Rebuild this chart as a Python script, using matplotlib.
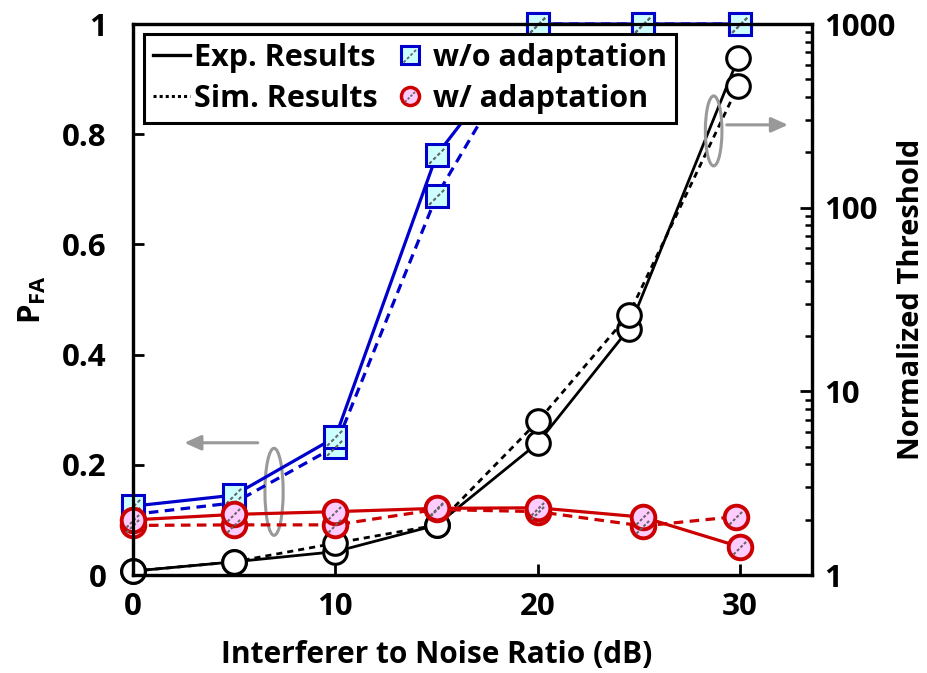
import numpy as np
import matplotlib
matplotlib.use("Agg")
import matplotlib.pyplot as plt
from matplotlib.path import Path
from matplotlib.lines import Line2D
from matplotlib.legend_handler import HandlerTuple
from matplotlib.patches import Ellipse

plt.rcParams['font.family'] = ['Open Sans', 'DejaVu Sans']
plt.rcParams['font.weight'] = 'bold'

# INR values (dB)
inr_pfa = [0, 5, 10, 15, 20, 25.2, 30]
inr_red_sim = [0, 5, 10, 15, 20, 25.2, 29.8]
inr_thr = [0, 5, 10, 15, 20, 24.5, 29.9]

# P_FA without adaptation
pfa_noadapt_exp = [0.125, 0.145, 0.25, 0.762, 1.0, 1.0, 1.0]
pfa_noadapt_sim = [0.11, 0.131, 0.233, 0.688, 1.0, 1.0, 1.0]
# P_FA with adaptation
pfa_adapt_exp = [0.1, 0.11, 0.115, 0.121, 0.122, 0.105, 0.051]
pfa_adapt_sim = [0.09, 0.091, 0.091, 0.119, 0.115, 0.089, 0.106]
# normalized threshold (right axis)
thr_exp = [1.05, 1.18, 1.34, 1.87, 5.23, 21.9, 650]
thr_sim = [1.05, 1.18, 1.49, 1.87, 6.86, 26.2, 460]

BLUE = '#0000cc'
RED = '#cc0000'
GRAY = '#999999'
FS = 22.5


def dashed_diag(n=4):
    # little dashed diagonal used as the "hatch" inside markers
    verts, codes = [], []
    step = 2.0 / n
    for i in range(n):
        s = -1 + i * step
        e = s + step * 0.6
        verts += [(s, s), (e, e)]
        codes += [Path.MOVETO, Path.LINETO]
    return Path(verts, codes)


DIAG = dashed_diag()

fig = plt.figure(figsize=(9.28, 6.73), dpi=100)
ax = fig.add_axes([0.1433, 0.1456, 0.7317, 0.8187])
ax2 = ax.twinx()

# threshold curves first (drawn under the P_FA ones)
ax.set_zorder(2)
ax2.set_zorder(1)
ax.patch.set_visible(False)

ax2.plot(inr_thr, thr_exp, '-', color='black', lw=2.0, marker='o', ms=17,
         mfc='white', mec='black', mew=2.2, clip_on=False)
ax2.plot(inr_thr, thr_sim, color='black', lw=2.0, ls=(0, (2.2, 1.8)), marker='o', ms=17,
         mfc='white', mec='black', mew=2.2, clip_on=False)

sq = dict(marker='s', ms=16.5, mfc='#ccffff', mec=BLUE, mew=2.2, clip_on=False)
ci = dict(marker='o', ms=17, mfc='#ffccff', mec=RED, mew=2.8, clip_on=False)

ax.plot(inr_pfa, pfa_noadapt_sim, color=BLUE, lw=2.3, ls=(0, (3, 2)), **sq)
ax.plot(inr_pfa, pfa_noadapt_exp, '-', color=BLUE, lw=2.3, **sq)
ax.plot(inr_pfa, pfa_noadapt_sim, ls='none', marker=DIAG, ms=12, mec='#666666', mew=1.5, clip_on=False)
ax.plot(inr_pfa, pfa_noadapt_exp, ls='none', marker=DIAG, ms=12, mec='#666666', mew=1.5, clip_on=False)

ax.plot(inr_red_sim, pfa_adapt_sim, color=RED, lw=2.3, ls=(0, (3, 2)), **ci)
ax.plot(inr_pfa, pfa_adapt_exp, '-', color=RED, lw=2.3, **ci)
ax.plot(inr_red_sim, pfa_adapt_sim, ls='none', marker=DIAG, ms=10, mec='#666666', mew=1.5, clip_on=False)
ax.plot(inr_pfa, pfa_adapt_exp, ls='none', marker=DIAG, ms=10, mec='#666666', mew=1.5, clip_on=False)

ax.set_xlim(0, 33.55)
ax.set_ylim(0, 1)
ax.set_xticks([0, 10, 20, 30])
ax.set_yticks([0, 0.2, 0.4, 0.6, 0.8, 1.0])
ax.set_yticklabels(['0', '0.2', '0.4', '0.6', '0.8', '1'])

ax2.set_yscale('log')
ax2.set_ylim(1, 1000)
ax2.set_yticks([1, 10, 100, 1000])
ax2.set_yticklabels(['1', '10', '100', '1000'])

for a in (ax, ax2):
    for sp in a.spines.values():
        sp.set_linewidth(2.3)
ax.tick_params(axis='y', direction='in', length=8, width=2, labelsize=FS, pad=19)
ax.tick_params(axis='x', direction='in', length=8, width=2, labelsize=FS, pad=12)
ax2.tick_params(axis='y', which='major', direction='in', length=9, width=2, labelsize=FS, pad=9)
ax2.tick_params(axis='y', which='minor', direction='in', length=5, width=1.8)

ax.set_xlabel('Interferer to Noise Ratio (dB)', fontsize=21.5, fontweight='bold')
ax.xaxis.set_label_coords(0.448, -0.118, transform=ax.transAxes)
ax.xaxis.label.set_va('top')
ax.set_ylabel(r'P$_{\mathregular{FA}}$', fontsize=FS, fontweight='bold', labelpad=10)
ax2.set_ylabel('Normalized Threshold', fontsize=21, fontweight='bold', labelpad=1)

# gray annotation ellipses and arrows
ax.add_patch(Ellipse((6.97, 0.151), 0.9, 0.158, fill=False, ec=GRAY, lw=2.2, clip_on=False))
ax.annotate('', xy=(2.4, 0.24), xytext=(6.3, 0.24),
            arrowprops=dict(arrowstyle='-|>,head_length=1.0,head_width=0.45', color=GRAY, lw=2.2))
ax.add_patch(Ellipse((28.69, 0.806), 0.82, 0.127, fill=False, ec=GRAY, lw=2.2, clip_on=False))
ax.annotate('', xy=(32.5, 0.817), xytext=(29.2, 0.817),
            arrowprops=dict(arrowstyle='-|>,head_length=1.0,head_width=0.45', color=GRAY, lw=2.2))

# legend
h_exp = Line2D([], [], color='black', lw=2.4)
h_sim = Line2D([], [], color='black', lw=2.2, ls=(0, (1, 1)))
h_blue = (Line2D([], [], ls='none', marker='s', ms=13, mfc='#ccffff', mec=BLUE, mew=2.2),
          Line2D([], [], ls='none', marker=DIAG, ms=10, mec='#666666', mew=1.3))
h_red = (Line2D([], [], ls='none', marker='o', ms=13, mfc='#ffccff', mec=RED, mew=2.5),
         Line2D([], [], ls='none', marker=DIAG, ms=8, mec='#666666', mew=1.3))
leg = ax.legend([h_exp, h_sim, h_blue, h_red],
                ['Exp. Results', 'Sim. Results', 'w/o adaptation', 'w/ adaptation'],
                ncol=2, loc='upper left', bbox_to_anchor=(0.016, 0.982), borderaxespad=0,
                handlelength=1.2, handletextpad=0.15, columnspacing=0.45,
                labelspacing=0.36, borderpad=0.3, frameon=True, fancybox=False,
                handler_map={tuple: HandlerTuple(ndivide=1)},
                prop={'weight': 'bold', 'size': 22})
leg.get_frame().set_edgecolor('black')
leg.get_frame().set_linewidth(2.2)
leg.get_frame().set_alpha(1)
leg.set_zorder(10)

fig.savefig('out.png', dpi=100)
